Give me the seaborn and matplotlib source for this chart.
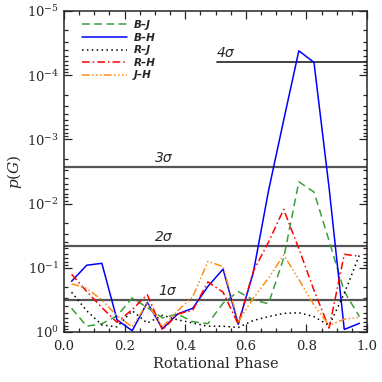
import matplotlib
matplotlib.use("Agg")
import matplotlib.pyplot as plt
import numpy as np
import pandas as pd
import seaborn as sns
from matplotlib.lines import Line2D
from matplotlib.ticker import LogLocator, MultipleLocator, NullFormatter

# rotational phase bins (centres)
phase = [0.025, 0.075, 0.125, 0.175, 0.225, 0.275, 0.325, 0.375, 0.425, 0.475,
         0.525, 0.575, 0.625, 0.675, 0.725, 0.775, 0.825, 0.875, 0.925, 0.975]

# -log10 p(G), per colour pair
nlog_BJ = [0.37, 0.09, 0.13, 0.25, 0.53, 0.38, 0.22, 0.28, 0.16, 0.13,
           0.45, 0.63, 0.50, 0.44, 1.15, 2.34, 2.18, 1.42, 0.63, 0.24]
nlog_BH = [0.79, 1.04, 1.07, 0.19, 0.02, 0.46, 0.05, 0.28, 0.37, 0.71,
           0.98, 0.12, 0.93, 2.20, 3.30, 4.38, 4.20, 2.24, 0.04, 0.135]
nlog_RJ = [0.62, 0.33, 0.11, 0.08, 0.33, 0.14, 0.26, 0.19, 0.14, 0.09,
           0.09, 0.07, 0.18, 0.24, 0.29, 0.30, 0.24, 0.10, 0.60, 1.20]
nlog_RH = [0.90, 0.63, 0.38, 0.15, 0.35, 0.58, 0.03, 0.28, 0.34, 0.78,
           0.62, 0.12, 0.95, 1.40, 1.91, 1.30, 0.65, 0.06, 1.21, 1.18]
nlog_JH = [0.75, 0.68, 0.50, 0.25, 0.08, 0.45, 0.08, 0.33, 0.55, 1.10,
           1.02, 0.16, 0.53, 0.84, 1.20, 0.82, 0.42, 0.10, 0.20, 0.23]

pairs = ['B–J', 'B–H', 'R–J', 'R–H', 'J–H']
colors = {'B–J': '#3a9f3a', 'B–H': '#0000ff', 'R–J': '#000000',
          'R–H': '#ff0000', 'J–H': '#ff8c1a'}
dashes = {'B–J': (5, 3), 'B–H': '', 'R–J': (1, 2.2),
          'R–H': (5, 2, 1, 2), 'J–H': (5, 1.6, 1, 1.6, 1, 1.6, 1, 1.6)}

# significance levels
sigma_names = ['1σ', '2σ', '3σ', '4σ']
sigma_p = [0.3173, 0.0455, 0.0027, 6.33e-5]

frames = []
for name, nl in zip(pairs, [nlog_BJ, nlog_BH, nlog_RJ, nlog_RH, nlog_JH]):
    frames.append(pd.DataFrame({'phase': phase,
                                'p': 10.0 ** (-np.array(nl)),
                                'pair': name}))
df = pd.concat(frames, ignore_index=True)

sns.set_style('ticks')
plt.rcParams['font.family'] = ['DejaVu Serif']
plt.rcParams['mathtext.fontset'] = 'dejavuserif'

fig = plt.figure(figsize=(3.82, 3.82), dpi=100)
ax = fig.add_axes([64 / 382, 1 - 332 / 382, 303 / 382, 321 / 382])

sns.lineplot(data=df, x='phase', y='p', hue='pair', style='pair',
             palette=colors, dashes=dashes, hue_order=pairs, style_order=pairs,
             estimator=None, sort=False, lw=1.1, legend=False, ax=ax)

ax.set_yscale('log')
ax.set_ylim(1.0, 1e-5)
ax.set_xlim(0.0, 1.0)

# sigma lines and labels
text_x = [0.31, 0.30, 0.30, 0.505]
for nm, p, tx in zip(sigma_names, sigma_p, text_x):
    if nm == '4σ':
        ax.axhline(p, xmin=0.505, xmax=1.0, color='#333333', lw=1.3, zorder=1)
    else:
        ax.axhline(p, color='#555555', lw=1.6, zorder=1)
    ax.text(tx, p * 0.93, nm, fontsize=10, style='italic', family='DejaVu Sans',
            ha='left', va='bottom')

# legend
handles = [Line2D([], [], color=colors[n], lw=1.1,
                  dashes=dashes[n] if dashes[n] else (None, None)) for n in pairs]
leg = ax.legend(handles, pairs, loc='upper left', bbox_to_anchor=(0.045, 0.985),
                frameon=False, handlelength=4.3, handletextpad=0.7,
                labelspacing=0.25, borderaxespad=0.0,
                prop={'family': 'DejaVu Sans', 'style': 'italic',
                      'weight': 'bold', 'size': 7.5})

ax.set_xlabel('Rotational Phase', fontsize=10.5, labelpad=3)
ax.set_ylabel('$p(G)$', fontsize=11, labelpad=2)

ax.xaxis.set_major_locator(MultipleLocator(0.2))
ax.xaxis.set_minor_locator(MultipleLocator(0.05))
ax.yaxis.set_major_locator(LogLocator(base=10, numticks=10))
ax.yaxis.set_minor_locator(LogLocator(base=10, subs=np.arange(2, 10), numticks=20))
ax.yaxis.set_minor_formatter(NullFormatter())
ax.tick_params(which='both', direction='in', top=True, right=True,
               labelsize=9.5, width=0.9)
ax.tick_params(axis='x', which='major', pad=6)
ax.tick_params(which='major', length=6)
ax.tick_params(which='minor', length=3)
for s in ax.spines.values():
    s.set_linewidth(1.1)

fig.savefig('out.png', dpi=100)
